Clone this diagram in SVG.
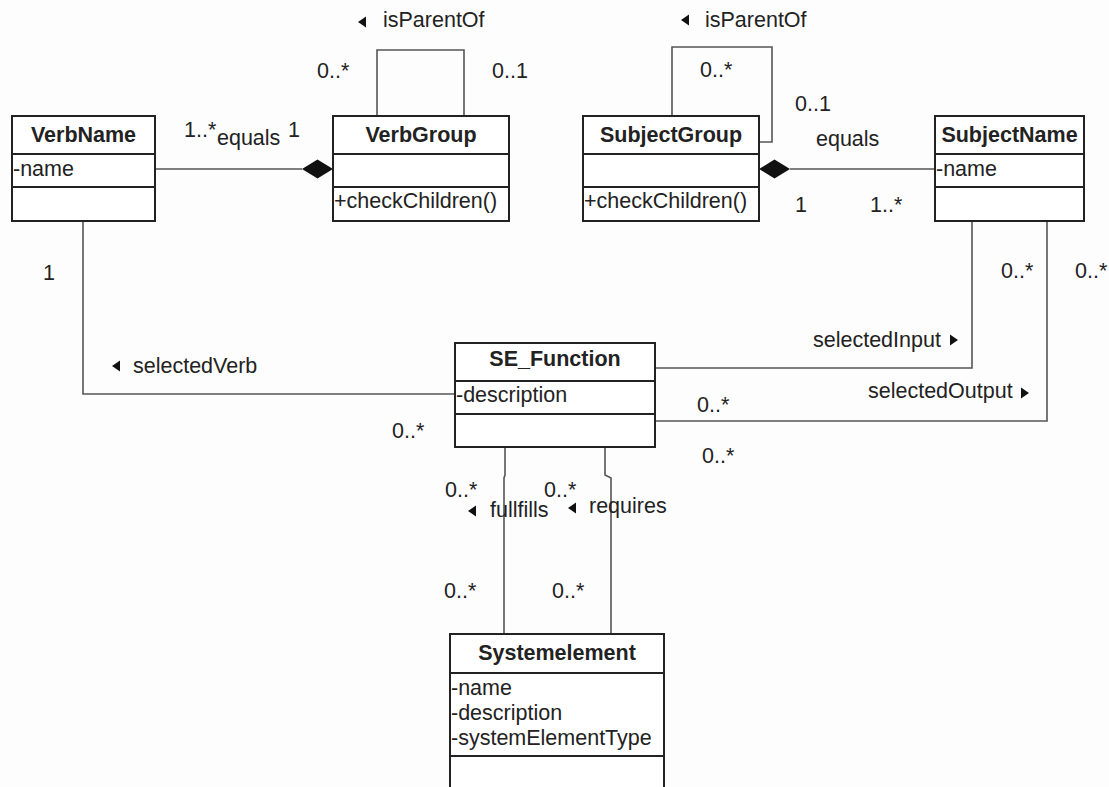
<svg xmlns="http://www.w3.org/2000/svg" width="1109" height="787" viewBox="0 0 1109 787">
<style>
text{font-family:"Liberation Sans",Arial,sans-serif;font-size:21.5px;fill:#222}
.b{font-weight:bold}
.m{text-anchor:middle}
.box{fill:#fff;stroke:#222;stroke-width:2}
.sep{stroke:#222;stroke-width:2}
.c{fill:none;stroke:#555;stroke-width:1.6}
.tri{fill:#111}
</style>
<rect width="1109" height="787" fill="#fdfdfd"/>
<g id="connectors">
<path class="c" d="M155,169H302"/>
<path class="tri" d="M333,169L317.5,159.5L302,169L317.5,178.5Z"/>
<path class="c" d="M790,169H935"/>
<path class="tri" d="M759,169L774.5,159.5L790,169L774.5,178.5Z"/>
<path class="c" d="M377,116V50H464V116"/>
<path class="c" d="M672,116V47H772V142H759"/>
<path class="c" d="M83,221V394H455"/>
<path class="c" d="M655,368H972V221"/>
<path class="c" d="M655,421H1047V221"/>
<path class="c" d="M505,447V475L504,478V634"/>
<path class="c" d="M605,447V475L611,478V634"/>
<text x="184" y="137">1..*</text>
<text x="217" y="145">equals</text>
<text x="288" y="137">1</text>
<text x="317" y="78">0..*</text>
<text x="492" y="78">0..1</text>
<path class="tri" d="M358,22L366,16.5V27.5Z"/>
<text x="383" y="27">isParentOf</text>
<path class="tri" d="M681,20L689,14.5V25.5Z"/>
<text x="705" y="27">isParentOf</text>
<text x="700" y="77">0..*</text>
<text x="795" y="111">0..1</text>
<text x="816" y="146">equals</text>
<text x="795" y="212">1</text>
<text x="870" y="212">1..*</text>
<text x="43" y="280">1</text>
<path class="tri" d="M112,366L120,360.5V371.5Z"/>
<text x="133" y="373">selectedVerb</text>
<text x="392" y="438">0..*</text>
<text x="813" y="347">selectedInput</text>
<path class="tri" d="M958,340L950,334.5V345.5Z"/>
<text x="868" y="398">selectedOutput</text>
<path class="tri" d="M1029,393L1021,387.5V398.5Z"/>
<text x="697" y="412">0..*</text>
<text x="702" y="463">0..*</text>
<text x="1001" y="278">0..*</text>
<text x="1075" y="278">0..*</text>
<text x="445" y="497">0..*</text>
<text x="544" y="497">0..*</text>
<path class="tri" d="M468,511L476,505.5V516.5Z"/>
<text x="490" y="517">fullfills</text>
<path class="tri" d="M568,508L576,502.5V513.5Z"/>
<text x="589" y="513">requires</text>
<text x="444" y="598">0..*</text>
<text x="552" y="598">0..*</text>
</g>
<g id="VerbName">
<rect class="box" x="12" y="116" width="143" height="105"/>
<path class="sep" d="M12,154H155M12,187H155"/>
<text class="b m" x="83.5" y="142">VerbName</text>
<text x="13" y="176">-name</text>
</g>
<g id="VerbGroup">
<rect class="box" x="333" y="116" width="176" height="105"/>
<path class="sep" d="M333,154H509M333,187H509"/>
<text class="b m" x="421" y="142">VerbGroup</text>
<text x="334" y="208">+checkChildren()</text>
</g>
<g id="SubjectGroup">
<rect class="box" x="583" y="116" width="176" height="105"/>
<path class="sep" d="M583,154H759M583,187H759"/>
<text class="b m" x="671" y="142">SubjectGroup</text>
<text x="584" y="208">+checkChildren()</text>
</g>
<g id="SubjectName">
<rect class="box" x="935" y="116" width="149" height="105"/>
<path class="sep" d="M935,154H1084M935,187H1084"/>
<text class="b m" x="1009.5" y="142">SubjectName</text>
<text x="936" y="176">-name</text>
</g>
<g id="SE_Function">
<rect class="box" x="455" y="343" width="200" height="104"/>
<path class="sep" d="M455,381H655M455,414H655"/>
<text class="b m" x="555" y="366">SE_Function</text>
<text x="456" y="402">-description</text>
</g>
<g id="Systemelement">
<rect class="box" x="450" y="634" width="214" height="170"/>
<path class="sep" d="M450,673H664M450,756H664"/>
<text class="b m" x="557" y="660">Systemelement</text>
<text x="451" y="695">-name</text>
<text x="451" y="720">-description</text>
<text x="451" y="745">-systemElementType</text>
</g>
</svg>
